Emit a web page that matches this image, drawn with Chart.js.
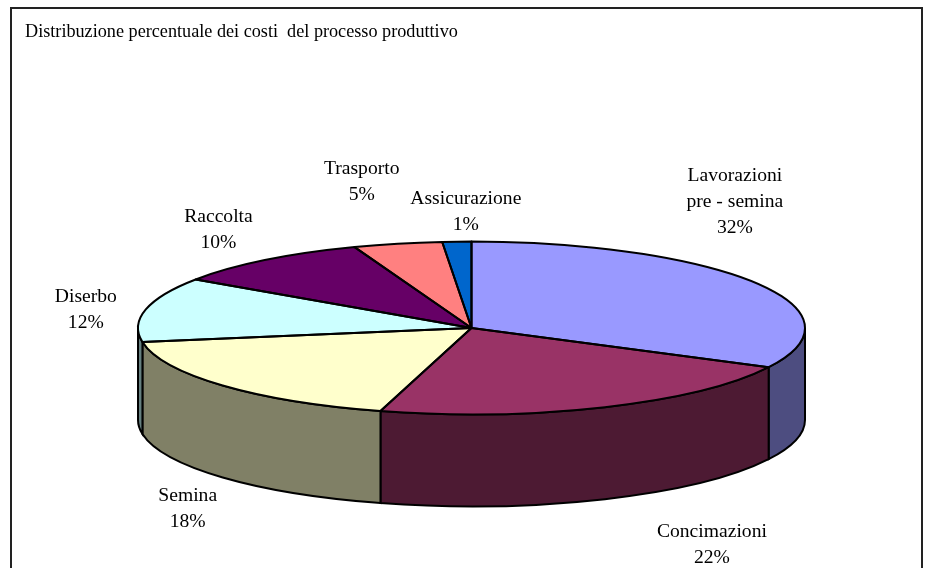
<!DOCTYPE html>
<html>
<head>
<meta charset="utf-8">
<style>
  html, body { margin: 0; padding: 0; background: #fff; overflow: hidden; }
  canvas { display: block; }
</style>
</head>
<body>
<canvas id="costChart" width="932" height="568"></canvas>
<script src="https://cdn.jsdelivr.net/npm/chart.js@4/dist/chart.umd.js"></script>
<script>
const titleText = "Distribuzione percentuale dei costi  del processo produttivo";
const categories = ["Lavorazioni\npre - semina", "Concimazioni", "Semina", "Diserbo", "Raccolta", "Trasporto", "Assicurazione"];
// slice sizes as measured on the drawing, the printed percentages are rounded differently
const shares = [32.5, 21.9, 18, 12.1, 9.8, 4.3, 1.4];
const shareLabels = ["32%", "22%", "18%", "12%", "10%", "5%", "1%"];
const topColors = ["#9999FF", "#993366", "#FFFFCC", "#CCFFFF", "#660066", "#FF8080", "#0066CC"];
const wallColors = ["#4D4D80", "#4D1A33", "#808066", "#668080", "#330033", "#804040", "#003366"];
// label offset from the slice's rim point, in px
const labelOffsets = [[-21, -81], [107, 138], [-35, 123], [-60, 0], [-47, -30], [-36, -62], [9, -30]];

const radiusX = 333.5;
const squash = 0.259; // ellipse height / width
const depth = 92;
const lineW = 2;
const fontFamily = '"Liberation Serif", serif';

// tilted pie: the walls go under, the arcs get squashed, outlines go on top
const tiltPlugin = {
  id: "tilt",
  beforeDraw(chart) {
    const c = chart.ctx;
    c.save();
    c.strokeStyle = "#222";
    c.lineWidth = 2;
    c.strokeRect(11, 8, 911, 600);
    c.restore();
  },
  beforeDatasetsDraw(chart) {
    const c = chart.ctx;
    const arcs = chart.getDatasetMeta(0).data;
    const ry = radiusX * squash;
    c.save();
    c.lineWidth = lineW;
    c.strokeStyle = "#000";
    arcs.forEach((arc, i) => {
      const s = Math.max(arc.startAngle, 0);
      const e = Math.min(arc.endAngle, Math.PI);
      if (e <= s) return;
      c.beginPath();
      c.ellipse(arc.x, arc.y, radiusX, ry, 0, s, e);
      c.ellipse(arc.x, arc.y + depth, radiusX, ry, 0, e, s, true);
      c.closePath();
      c.fillStyle = wallColors[i];
      c.fill();
      c.stroke();
    });
    c.restore();
  },
  beforeDatasetDraw(chart) {
    const c = chart.ctx;
    const arc = chart.getDatasetMeta(0).data[0];
    c.save();
    c.translate(arc.x, arc.y);
    c.scale(1, squash);
    c.translate(-arc.x, -arc.y);
  },
  afterDatasetDraw(chart) {
    const c = chart.ctx;
    const arcs = chart.getDatasetMeta(0).data;
    const ry = radiusX * squash;
    c.restore();
    c.save();
    c.lineWidth = lineW;
    c.lineJoin = "round";
    c.strokeStyle = "#000";
    arcs.forEach((arc) => {
      c.beginPath();
      c.moveTo(arc.x, arc.y);
      c.ellipse(arc.x, arc.y, radiusX, ry, 0, arc.startAngle, arc.endAngle);
      c.closePath();
      c.stroke();
    });
    c.restore();
  },
  afterDraw(chart) {
    const c = chart.ctx;
    const arcs = chart.getDatasetMeta(0).data;
    const ry = radiusX * squash;
    const lineHeight = 26;
    c.save();
    c.font = "19.6px " + fontFamily;
    c.fillStyle = "#000";
    c.textAlign = "center";
    c.textBaseline = "middle";
    arcs.forEach((arc, i) => {
      const mid = (arc.startAngle + arc.endAngle) / 2;
      const x = arc.x + radiusX * Math.cos(mid) + labelOffsets[i][0];
      const y = arc.y + ry * Math.sin(mid) + labelOffsets[i][1];
      const lines = categories[i].split("\n").concat(shareLabels[i]);
      lines.forEach((line, n) => {
        c.fillText(line, x, y + (n - (lines.length - 1) / 2) * lineHeight);
      });
    });
    c.restore();
  },
};

const chart = new Chart(document.getElementById("costChart").getContext("2d"), {
  type: "pie",
  data: {
    labels: categories,
    datasets: [
      {
        data: shares,
        backgroundColor: topColors,
        borderWidth: 0,
        clip: false,
      },
    ],
  },
  options: {
    responsive: false,
    animation: false,
    radius: radiusX,
    layout: { padding: { left: 25, right: 14, top: 21, bottom: 0 } },
    plugins: {
      legend: { display: false },
      tooltip: { enabled: false },
      title: {
        display: true,
        text: titleText,
        align: "start",
        color: "#000",
        font: { family: fontFamily, size: 18.2, weight: "normal", lineHeight: 1.2 },
        padding: { top: 0, bottom: 45.16 },
      },
    },
  },
  plugins: [tiltPlugin],
});
</script>
</body>
</html>
